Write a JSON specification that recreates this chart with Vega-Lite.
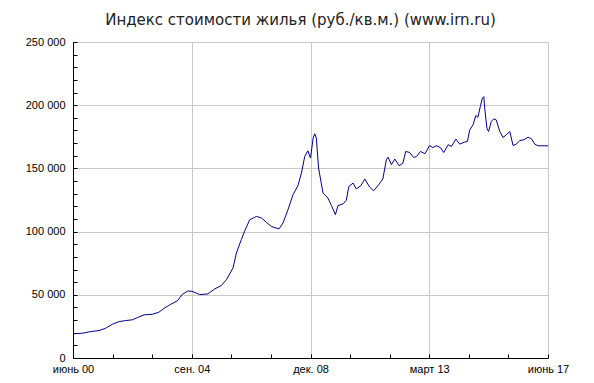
{
  "$schema": "https://vega.github.io/schema/vega-lite/v6.json",
  "width": 475,
  "height": 316,
  "autosize": {"type": "none"},
  "padding": {"left": 73, "top": 42, "right": 46, "bottom": 25},
  "background": "white",
  "view": {"stroke": null},
  "title": {
    "text": "Индекс стоимости жилья (руб./кв.м.) (www.irn.ru)",
    "font": "DejaVu Sans",
    "fontSize": 15,
    "fontWeight": "normal",
    "color": "#222222",
    "anchor": "middle",
    "frame": "group",
    "dx": -10,
    "offset": 8
  },
  "data": {
    "values": [
      {"date": "2000-06-01", "index": 19100},
      {"date": "2000-10-01", "index": 19600},
      {"date": "2001-01-19", "index": 20900},
      {"date": "2001-05-07", "index": 21700},
      {"date": "2001-08-01", "index": 23500},
      {"date": "2001-10-28", "index": 26700},
      {"date": "2002-01-25", "index": 28800},
      {"date": "2002-04-19", "index": 29600},
      {"date": "2002-07-16", "index": 30200},
      {"date": "2002-09-22", "index": 32000},
      {"date": "2002-12-16", "index": 34100},
      {"date": "2003-04-04", "index": 34600},
      {"date": "2003-06-28", "index": 36200},
      {"date": "2003-09-04", "index": 39300},
      {"date": "2003-12-01", "index": 42500},
      {"date": "2004-02-25", "index": 45200},
      {"date": "2004-05-01", "index": 50400},
      {"date": "2004-07-10", "index": 53000},
      {"date": "2004-09-04", "index": 52800},
      {"date": "2004-12-13", "index": 50200},
      {"date": "2005-04-01", "index": 50700},
      {"date": "2005-06-28", "index": 54700},
      {"date": "2005-09-22", "index": 57300},
      {"date": "2005-11-28", "index": 62000},
      {"date": "2006-02-22", "index": 71300},
      {"date": "2006-04-07", "index": 83100},
      {"date": "2006-06-10", "index": 93600},
      {"date": "2006-07-22", "index": 100200},
      {"date": "2006-09-28", "index": 109400},
      {"date": "2006-12-25", "index": 112000},
      {"date": "2007-02-28", "index": 110800},
      {"date": "2007-05-04", "index": 107300},
      {"date": "2007-07-07", "index": 104100},
      {"date": "2007-10-16", "index": 102100},
      {"date": "2007-12-07", "index": 106800},
      {"date": "2008-02-10", "index": 117300},
      {"date": "2008-04-16", "index": 129200},
      {"date": "2008-06-19", "index": 136300},
      {"date": "2008-08-04", "index": 146300},
      {"date": "2008-09-16", "index": 159400},
      {"date": "2008-10-28", "index": 163900},
      {"date": "2008-12-01", "index": 158200},
      {"date": "2009-01-04", "index": 174000},
      {"date": "2009-01-25", "index": 177400},
      {"date": "2009-02-15", "index": 174000},
      {"date": "2009-03-16", "index": 150300},
      {"date": "2009-05-13", "index": 130500},
      {"date": "2009-07-16", "index": 126600},
      {"date": "2009-09-01", "index": 120500},
      {"date": "2009-10-22", "index": 113400},
      {"date": "2009-11-25", "index": 120500},
      {"date": "2010-02-01", "index": 122000},
      {"date": "2010-03-13", "index": 124700},
      {"date": "2010-04-16", "index": 135700},
      {"date": "2010-06-10", "index": 138400},
      {"date": "2010-07-22", "index": 133700},
      {"date": "2010-09-19", "index": 136300},
      {"date": "2010-11-10", "index": 141600},
      {"date": "2011-01-13", "index": 135200},
      {"date": "2011-03-04", "index": 132300},
      {"date": "2011-05-01", "index": 136300},
      {"date": "2011-07-04", "index": 141600},
      {"date": "2011-08-19", "index": 156800},
      {"date": "2011-09-10", "index": 158900},
      {"date": "2011-10-25", "index": 152900},
      {"date": "2011-12-07", "index": 157400},
      {"date": "2012-02-01", "index": 152100},
      {"date": "2012-03-22", "index": 154200},
      {"date": "2012-04-28", "index": 163400},
      {"date": "2012-06-19", "index": 162600},
      {"date": "2012-08-10", "index": 158600},
      {"date": "2012-09-16", "index": 159400},
      {"date": "2012-11-07", "index": 163400},
      {"date": "2013-01-04", "index": 161600},
      {"date": "2013-03-07", "index": 168100},
      {"date": "2013-04-19", "index": 166500},
      {"date": "2013-06-04", "index": 167900},
      {"date": "2013-07-25", "index": 166500},
      {"date": "2013-09-07", "index": 162600},
      {"date": "2013-11-04", "index": 168700},
      {"date": "2013-12-16", "index": 167300},
      {"date": "2014-02-13", "index": 173200},
      {"date": "2014-04-04", "index": 169200},
      {"date": "2014-06-07", "index": 170800},
      {"date": "2014-07-13", "index": 171300},
      {"date": "2014-08-13", "index": 180500},
      {"date": "2014-09-25", "index": 184500},
      {"date": "2014-11-01", "index": 191800},
      {"date": "2014-11-28", "index": 190500},
      {"date": "2015-01-01", "index": 199700},
      {"date": "2015-01-25", "index": 205600},
      {"date": "2015-02-13", "index": 206800},
      {"date": "2015-02-25", "index": 197700},
      {"date": "2015-03-25", "index": 181900},
      {"date": "2015-04-16", "index": 179200},
      {"date": "2015-05-22", "index": 187100},
      {"date": "2015-06-22", "index": 189200},
      {"date": "2015-07-25", "index": 188400},
      {"date": "2015-09-10", "index": 179200},
      {"date": "2015-10-22", "index": 174400},
      {"date": "2015-12-04", "index": 176600},
      {"date": "2016-01-19", "index": 179200},
      {"date": "2016-03-01", "index": 168100},
      {"date": "2016-04-13", "index": 169200},
      {"date": "2016-05-28", "index": 172100},
      {"date": "2016-07-19", "index": 172600},
      {"date": "2016-09-13", "index": 174700},
      {"date": "2016-10-28", "index": 173400},
      {"date": "2016-12-10", "index": 169200},
      {"date": "2017-01-22", "index": 167900},
      {"date": "2017-06-01", "index": 167900}
    ]
  },
  "mark": {"type": "line", "color": "#00008b", "strokeWidth": 1, "clip": true},
  "encoding": {
    "x": {
      "field": "date",
      "type": "temporal",
      "scale": {
        "type": "utc",
        "nice": false,
        "domain": [
          {"year": 2000, "month": 6, "date": 1, "utc": true},
          {"year": 2017, "month": 6, "date": 1, "utc": true}
        ]
      },
      "axis": {
        "title": null,
        "values": [
          {"year": 2000, "month": 6, "date": 1, "utc": true},
          {"year": 2001, "month": 11, "date": 1, "utc": true},
          {"year": 2003, "month": 4, "date": 1, "utc": true},
          {"year": 2004, "month": 9, "date": 1, "utc": true},
          {"year": 2006, "month": 2, "date": 1, "utc": true},
          {"year": 2007, "month": 7, "date": 1, "utc": true},
          {"year": 2008, "month": 12, "date": 1, "utc": true},
          {"year": 2010, "month": 5, "date": 1, "utc": true},
          {"year": 2011, "month": 10, "date": 1, "utc": true},
          {"year": 2013, "month": 3, "date": 1, "utc": true},
          {"year": 2014, "month": 8, "date": 1, "utc": true},
          {"year": 2016, "month": 1, "date": 1, "utc": true},
          {"year": 2017, "month": 6, "date": 1, "utc": true}
        ],
        "labelExpr": "utcmonth(datum.value) % 3 == 2 ? (['янв.','февр.','март','апр.','май','июнь','июль','авг.','сен.','окт.','нояб.','дек.'][utcmonth(datum.value)] + ' ' + utcFormat(datum.value, '%y')) : ''",
        "labelOverlap": false,
        "labelFlush": false,
        "labelFont": "Liberation Sans",
        "labelFontSize": 11,
        "labelColor": "#000000",
        "labelPadding": 9,
        "tickSize": -4,
        "tickColor": "#000000",
        "domainColor": "#000000",
        "grid": true,
        "gridColor": {"condition": {"test": "utcmonth(datum.value) % 3 == 2", "value": "#c8c8c8"}, "value": "transparent"},
        "gridOpacity": 1
      }
    },
    "y": {
      "field": "index",
      "type": "quantitative",
      "scale": {"domain": [0, 250000], "nice": false},
      "axis": {
        "title": null,
        "values": [0, 10000, 20000, 30000, 40000, 50000, 60000, 70000, 80000, 90000, 100000, 110000, 120000, 130000, 140000, 150000, 160000, 170000, 180000, 190000, 200000, 210000, 220000, 230000, 240000, 250000],
        "labelExpr": "datum.value % 50000 == 0 ? replace(format(datum.value, ','), ',', ' ') : ''",
        "labelOverlap": false,
        "labelFlush": false,
        "labelFont": "Liberation Sans",
        "labelFontSize": 11,
        "labelColor": "#000000",
        "labelPadding": 12,
        "tickSize": -4,
        "tickColor": "#000000",
        "domainColor": "#000000",
        "grid": true,
        "gridColor": {"condition": {"test": "datum.value % 50000 == 0 && datum.value > 0", "value": "#c8c8c8"}, "value": "transparent"},
        "gridOpacity": 1
      }
    }
  }
}
